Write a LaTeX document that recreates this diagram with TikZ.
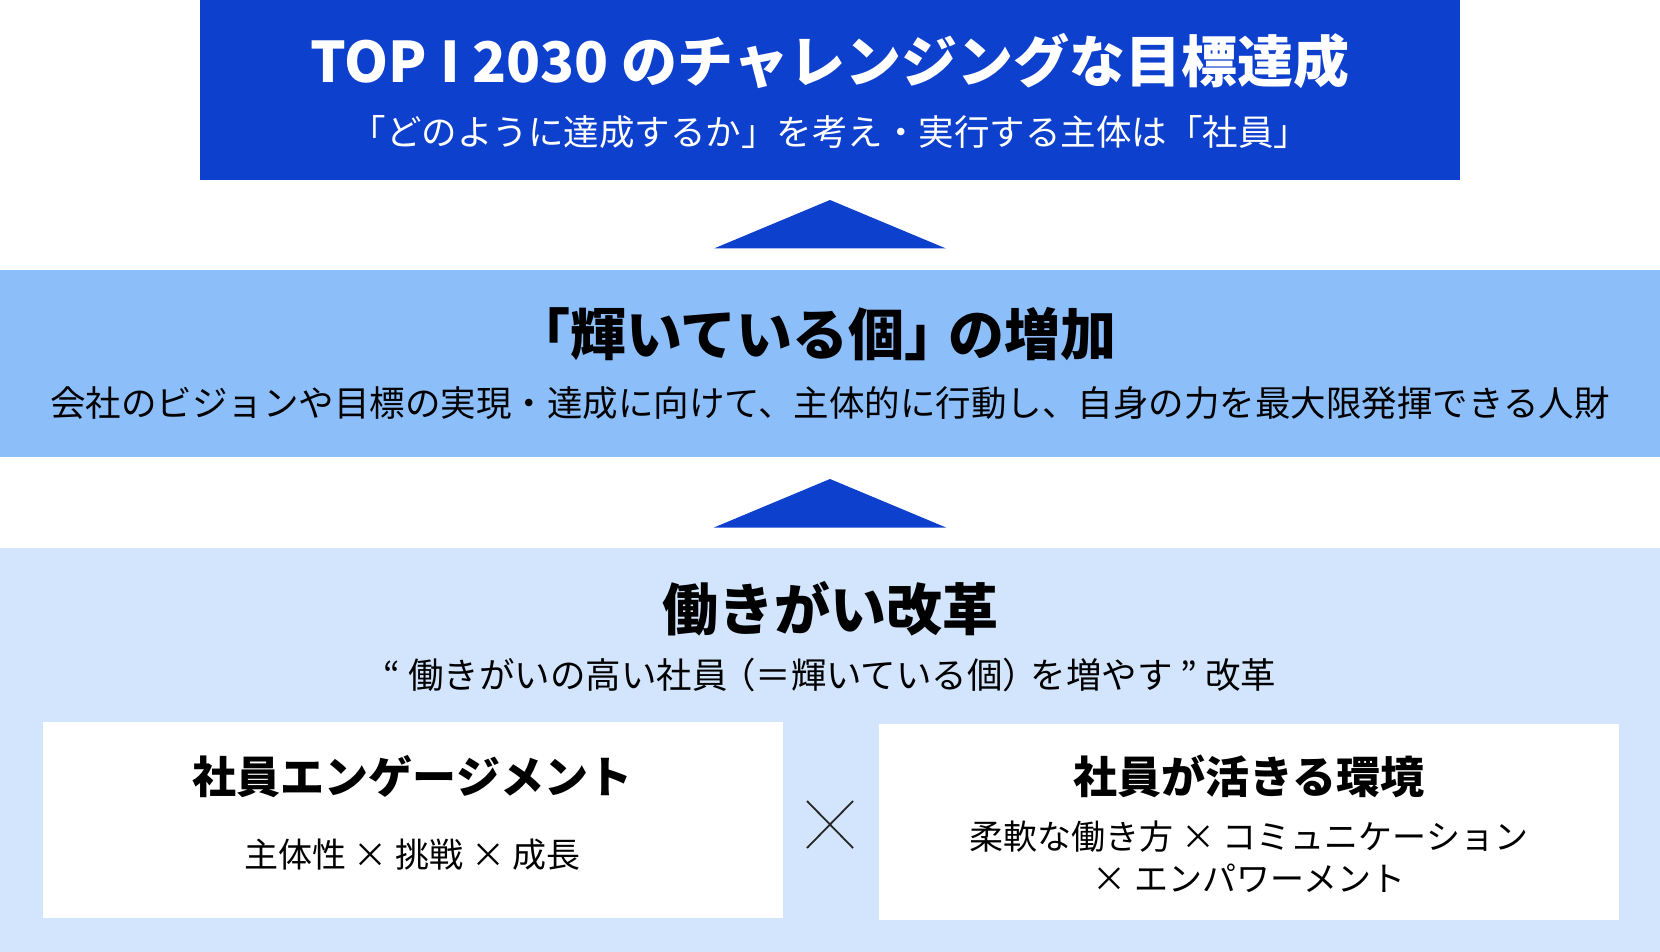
\documentclass[tikz,border=0pt]{standalone}
\usepackage{fontspec}
\usepackage{tikz}
\newfontfamily\jpfont{Noto Sans CJK JP}

\definecolor{goalblue}{HTML}{0E40CE}
\definecolor{midblue}{HTML}{8CBEF9}
\definecolor{paleblue}{HTML}{D2E5FD}

\begin{document}
\begin{tikzpicture}[x=1pt,y=-1pt,
  panel/.style={inner sep=0pt, draw=none},
  headtext/.style={inner sep=0pt, font=\jpfont\bfseries\fontsize{56}{60}\selectfont},
  subtext/.style={inner sep=0pt, font=\jpfont\fontsize{35.5}{40}\selectfont},
  boxhead/.style={inner sep=0pt, font=\jpfont\bfseries\fontsize{44}{48}\selectfont},
  boxtext/.style={inner sep=0pt, font=\jpfont\fontsize{34}{42}\selectfont}]

  \useasboundingbox (0,0) rectangle (1660,952);

  % 3 katman: hedef / kisi / reform
  \node[panel, fill=goalblue, minimum width=1260pt, minimum height=180pt] (goal) at (830,90) {};
  \node[panel, fill=midblue, minimum width=1660pt, minimum height=187pt] (people) at (830,363.5) {};
  \node[panel, fill=paleblue, minimum width=1660pt, minimum height=404pt] (reform) at (830,750) {};

  % alttaki iki beyaz kutu
  \node[panel, fill=white, minimum width=740pt, minimum height=196pt] (engage) at (412.5,820) {};
  \node[panel, fill=white, minimum width=740pt, minimum height=196pt] (envir) at (1249,822) {};

  % katmanlar arasi ucgenler
  \foreach \ty in {200,479}{
    \fill[goalblue] (830,\ty) -- (946,\ty+48.5) -- (714,\ty+48.5) -- cycle;
  }

  % metinler
  \node[headtext, text=white] (goalhead) at (830,61) {TOP I 2030 のチャレンジングな目標達成};
  \node[subtext, text=white] (goalsub) at (830,132.5) {「どのように達成するか」を考え・実行する主体は「社員」};

  \node[headtext] (peoplehead) at (815,334) {「輝いている個」\kern-0.22em の増加};
  \node[subtext] (peoplesub) at (830,403) {会社のビジョンや目標の実現・達成に向けて、主体的に行動し、自身の力を最大限発揮できる人財};

  \node[headtext] (reformhead) at (830,609) {働きがい改革};
  \node[subtext] (reformsub) at (830,675) {“ 働きがいの高い社員\kern-0.22em（＝輝いている個）\kern-0.22em を増やす ” 改革};

  \node[boxhead] (engagehead) at (412.5,777) {社員エンゲージメント};
  \node[boxtext] (engagetext) at (412.5,855) {主体性 × 挑戦 × 成長};

  \node[boxhead] (envirhead) at (1249,776) {社員が活きる環境};
  \node[boxtext, align=center] (envirtext) at (1249,857) {柔軟な働き方 × コミュニケーション\\× エンパワーメント};

  % kutular arasindaki carpi
  \coordinate (times) at (830,825);
  \draw[line width=1.8pt, draw=black!85] (times) ++(-23,-24) -- ++(46,47);
  \draw[line width=1.8pt, draw=black!85] (times) ++(23,-24) -- ++(-46,47);

\end{tikzpicture}
\end{document}
